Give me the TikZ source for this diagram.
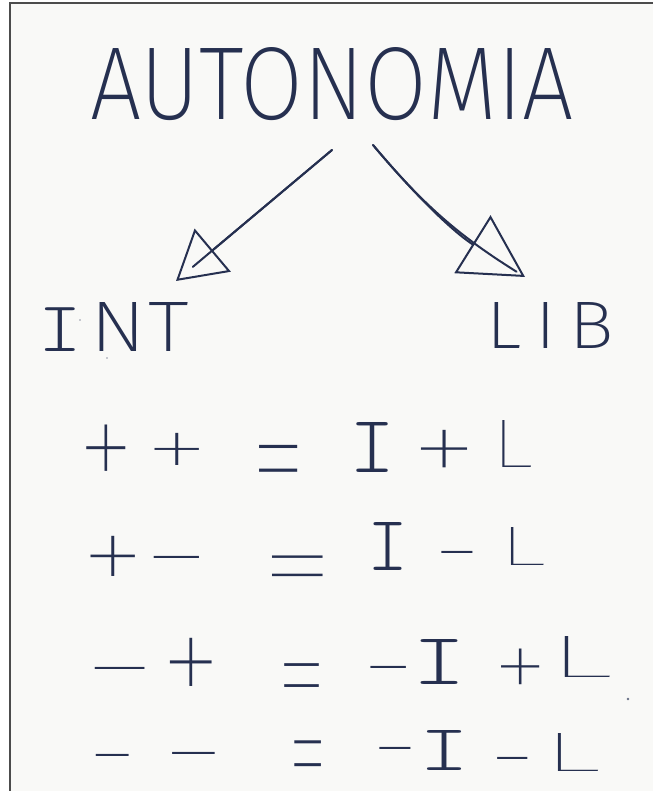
\documentclass[tikz,border=0pt]{standalone}
\usepackage{fontspec}
\usepackage{graphicx}
\usetikzlibrary{arrows.meta}
\IfFontExistsTF{Fira Sans ExtraLight}{\newfontfamily\hand{Fira Sans ExtraLight}}{\IfFontExistsTF{Fira Sans Light}{\newfontfamily\hand{Fira Sans Light}}{\newfontfamily\hand{Fira Sans}}}
\IfFontExistsTF{Fira Sans Thin}{\newfontfamily\symf{Fira Sans Thin}}{\newfontfamily\symf{Fira Sans ExtraLight}}
\IfFontExistsTF{lmmonolt10-regular.otf}{\newfontfamily\handI{lmmonolt10-regular.otf}}{\newfontfamily\handI{Liberation Mono}}
\definecolor{ink}{RGB}{38,48,80}
\definecolor{paper}{RGB}{249,249,247}
\newdimen\axisd \newdimen\inkw \newdimen\eqd
\newcommand\setaxis{\axisd=\fontcharht\font"2212 \advance\axisd-0.75pt
  \inkw=\fontcharht\font`+ \advance\inkw-\axisd \multiply\inkw 2 }
\newcommand\tplus{\setaxis\raisebox{\dimexpr\inkw/2-\axisd\relax}[\inkw][0pt]{\makebox[\inkw]{+}}}
\newcommand\tminus{\setaxis\raisebox{\dimexpr1pt-\axisd\relax}[2pt][0pt]{\makebox[\inkw]{−}}}
\newcommand\teq{\setaxis\eqd=\fontcharht\font`= \advance\eqd-\axisd
  \raisebox{\dimexpr\eqd-\axisd\relax}[2\eqd][0pt]{\makebox[\inkw]{=}}}
\begin{document}
\begin{tikzpicture}[x=1pt,y=-1pt,
  txt/.style={inner sep=0pt, outer sep=0pt, text=ink, font=\hand\fontsize{80}{80}\selectfont},
  sym/.style={inner sep=0pt, outer sep=0pt, text=ink, font=\symf\fontsize{100}{100}\selectfont},
  ltr/.style={inner sep=0pt, outer sep=0pt, text=ink, font=\symf\fontsize{#1}{#1}\selectfont},
  arr/.style={draw=ink, line width=2pt, line cap=round, line join=round},
  headL/.style={-{Triangle[open, length=48pt, width=56pt, line width=2pt]}},
  headR/.style={-{Triangle[open, length=62pt, width=68pt, line width=2pt]}}]
\useasboundingbox (0,0) rectangle (653,791);
\fill[white] (0,0) rectangle (653,791);
\fill[paper] (10,3) rectangle (653,791);
\draw[gray!60!black, line width=1.2pt] (10,791) -- (10,3) -- (653,3);

% title
\node[txt] (title) at (332,84) {\resizebox{483pt}{72pt}{AUTONOMIA}};

% arrows
\coordinate (l0) at (332,150);
\coordinate (l1) at (176,281);
\coordinate (r0) at (373,145);
\coordinate (r1) at (525,277);
\draw[arr, headL] (l0) -- (l1);
\draw[arr, shorten >=22pt] (l0) -- (l1);
\draw[arr, headR] (r0) to[bend right=9] (r1);
\draw[arr, shorten >=10pt] (r0) to[bend right=9] (r1);

% labels
\node[txt] (int) at (114,327) {\resizebox{150pt}{49pt}{{\handI I}\kern8pt N\kern2pt T}};
\node[txt] (lib) at (550,325) {\resizebox{128pt}{46pt}{L\kern15pt I\kern15pt B}};

% row 1
\node[sym] (r1a) at (106,448) {\resizebox{44pt}{52pt}{\tplus}};
\node[sym] (r1b) at (177,449) {\resizebox{50pt}{36pt}{\tplus}};
\node[sym] (r1e) at (279,458) {\resizebox{43pt}{26pt}{\teq}};
\node[txt] (r1i) at (372,447) {\resizebox{46pt}{50pt}{\handI I}};
\node[sym] (r1p) at (444,449) {\resizebox{52pt}{42pt}{\tplus}};
\node[ltr=68] (r1l) at (512,444) {\resizebox{42pt}{47pt}{L}};

% row 2
\node[sym] (r2a) at (113,556) {\resizebox{50pt}{45pt}{\tplus}};
\node[sym] (r2b) at (177,557) {\resizebox{51pt}{\height}{\tminus}};
\node[sym] (r2e) at (298,566) {\resizebox{57pt}{20pt}{\teq}};
\node[txt] (r2i) at (388,546) {\resizebox{41pt}{48pt}{\handI I}};
\node[sym] (r2m) at (457,552) {\resizebox{35pt}{\height}{\tminus}};
\node[ltr=55] (r2l) at (522,546) {\resizebox{48pt}{38pt}{L}};

% row 3
\node[sym] (r3a) at (120,668) {\resizebox{56pt}{\height}{\tminus}};
\node[sym] (r3b) at (191,662) {\resizebox{47pt}{54pt}{\tplus}};
\node[sym] (r3e) at (302,675) {\resizebox{39pt}{23pt}{\teq}};
\node[sym] (r3m) at (389,667) {\resizebox{40pt}{\height}{\tminus}};
\node[txt] (r3i) at (439,662) {\resizebox{54pt}{45pt}{\handI I}};
\node[sym] (r3p) at (521,667) {\resizebox{43pt}{40pt}{\tplus}};
\node[ltr=59] (r3l) at (580,657) {\resizebox{66pt}{41pt}{L}};

% row 4
\node[sym] (r4a) at (113,755) {\resizebox{37pt}{\height}{\tminus}};
\node[sym] (r4b) at (194,753) {\resizebox{48pt}{\height}{\tminus}};
\node[sym] (r4e) at (308,753) {\resizebox{30pt}{25pt}{\teq}};
\node[sym] (r4m) at (395,748) {\resizebox{35pt}{\height}{\tminus}};
\node[txt] (r4i) at (444,750) {\resizebox{50pt}{40pt}{\handI I}};
\node[sym] (r4n) at (513,758) {\resizebox{34pt}{\height}{\tminus}};
\node[ltr=55] (r4l) at (572,752) {\resizebox{59pt}{38pt}{L}};

% specks
\fill[ink!70] (628,699) circle (1.3pt);
\fill[ink!50] (80,320) circle (0.9pt);
\fill[ink!50] (107,358) circle (0.9pt);
\end{tikzpicture}
\end{document}
